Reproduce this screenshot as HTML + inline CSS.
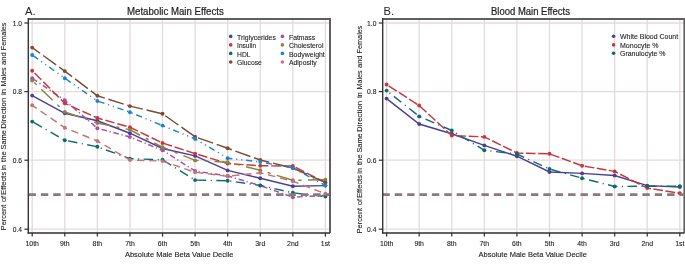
<!DOCTYPE html>
<html><head><meta charset="utf-8"><style>
html,body{margin:0;padding:0;background:#fff;}
body{width:685px;height:267px;overflow:hidden;font-family:"Liberation Sans",sans-serif;}
svg{display:block;will-change:transform;}
</style></head><body>
<svg width="685" height="267" viewBox="0 0 685 267">
<rect width="685" height="267" fill="#fff"/>
<line x1="32.20" y1="19.0" x2="32.20" y2="233.0" stroke="#e3dbdb" stroke-width="1.3"/>
<line x1="64.78" y1="19.0" x2="64.78" y2="233.0" stroke="#e3dbdb" stroke-width="1.3"/>
<line x1="97.36" y1="19.0" x2="97.36" y2="233.0" stroke="#e3dbdb" stroke-width="1.3"/>
<line x1="129.94" y1="19.0" x2="129.94" y2="233.0" stroke="#e3dbdb" stroke-width="1.3"/>
<line x1="162.52" y1="19.0" x2="162.52" y2="233.0" stroke="#e3dbdb" stroke-width="1.3"/>
<line x1="195.10" y1="19.0" x2="195.10" y2="233.0" stroke="#e3dbdb" stroke-width="1.3"/>
<line x1="227.68" y1="19.0" x2="227.68" y2="233.0" stroke="#e3dbdb" stroke-width="1.3"/>
<line x1="260.26" y1="19.0" x2="260.26" y2="233.0" stroke="#e3dbdb" stroke-width="1.3"/>
<line x1="292.84" y1="19.0" x2="292.84" y2="233.0" stroke="#e3dbdb" stroke-width="1.3"/>
<line x1="325.42" y1="19.0" x2="325.42" y2="233.0" stroke="#e3dbdb" stroke-width="1.3"/>
<line x1="28.30" y1="23.0" x2="330.00" y2="23.0" stroke="#e3dbdb" stroke-width="1.3"/>
<line x1="28.30" y1="91.6" x2="330.00" y2="91.6" stroke="#e3dbdb" stroke-width="1.3"/>
<line x1="28.30" y1="160.2" x2="330.00" y2="160.2" stroke="#e3dbdb" stroke-width="1.3"/>
<line x1="28.30" y1="229.2" x2="330.00" y2="229.2" stroke="#e3dbdb" stroke-width="1.3"/>
<polyline points="32.20,95.60 64.78,113.30 97.36,120.80 129.94,133.20 162.52,148.50 195.10,155.90 227.68,170.40 260.26,178.30 292.84,186.20 325.42,185.60" fill="none" stroke="#4a3f96" stroke-width="1.45"/>
<circle cx="32.20" cy="95.60" r="1.95" fill="#4a3f96"/>
<circle cx="64.78" cy="113.30" r="1.95" fill="#4a3f96"/>
<circle cx="97.36" cy="120.80" r="1.95" fill="#4a3f96"/>
<circle cx="129.94" cy="133.20" r="1.95" fill="#4a3f96"/>
<circle cx="162.52" cy="148.50" r="1.95" fill="#4a3f96"/>
<circle cx="195.10" cy="155.90" r="1.95" fill="#4a3f96"/>
<circle cx="227.68" cy="170.40" r="1.95" fill="#4a3f96"/>
<circle cx="260.26" cy="178.30" r="1.95" fill="#4a3f96"/>
<circle cx="292.84" cy="186.20" r="1.95" fill="#4a3f96"/>
<circle cx="325.42" cy="185.60" r="1.95" fill="#4a3f96"/>
<polyline points="32.20,78.20 64.78,100.30 97.36,128.20 129.94,137.00 162.52,150.30 195.10,171.00 227.68,176.00 260.26,185.60 292.84,197.20 325.42,195.30" fill="none" stroke="#a84ea6" stroke-width="1.45" stroke-dasharray="5.5 2.8 1.2 2.8" stroke-dashoffset="11.8"/>
<circle cx="32.20" cy="78.20" r="1.95" fill="#a84ea6"/>
<circle cx="64.78" cy="100.30" r="1.95" fill="#a84ea6"/>
<circle cx="97.36" cy="128.20" r="1.95" fill="#a84ea6"/>
<circle cx="129.94" cy="137.00" r="1.95" fill="#a84ea6"/>
<circle cx="162.52" cy="150.30" r="1.95" fill="#a84ea6"/>
<circle cx="195.10" cy="171.00" r="1.95" fill="#a84ea6"/>
<circle cx="227.68" cy="176.00" r="1.95" fill="#a84ea6"/>
<circle cx="260.26" cy="185.60" r="1.95" fill="#a84ea6"/>
<circle cx="292.84" cy="197.20" r="1.95" fill="#a84ea6"/>
<circle cx="325.42" cy="195.30" r="1.95" fill="#a84ea6"/>
<polyline points="32.20,70.70 64.78,103.30 97.36,118.00 129.94,127.30 162.52,143.00 195.10,153.60 227.68,163.50 260.26,165.80 292.84,166.00 325.42,182.50" fill="none" stroke="#c8373c" stroke-width="1.45" stroke-dasharray="9.5 2.9" stroke-dashoffset="9.0"/>
<circle cx="32.20" cy="70.70" r="1.95" fill="#c8373c"/>
<circle cx="64.78" cy="103.30" r="1.95" fill="#c8373c"/>
<circle cx="97.36" cy="118.00" r="1.95" fill="#c8373c"/>
<circle cx="129.94" cy="127.30" r="1.95" fill="#c8373c"/>
<circle cx="162.52" cy="143.00" r="1.95" fill="#c8373c"/>
<circle cx="195.10" cy="153.60" r="1.95" fill="#c8373c"/>
<circle cx="227.68" cy="163.50" r="1.95" fill="#c8373c"/>
<circle cx="260.26" cy="165.80" r="1.95" fill="#c8373c"/>
<circle cx="292.84" cy="166.00" r="1.95" fill="#c8373c"/>
<circle cx="325.42" cy="182.50" r="1.95" fill="#c8373c"/>
<polyline points="32.20,121.60 64.78,140.20 97.36,146.80 129.94,158.60 162.52,159.80 195.10,180.10 227.68,180.70 260.26,185.40 292.84,192.80 325.42,196.60" fill="none" stroke="#0d6b6f" stroke-width="1.45" stroke-dasharray="9.5 4.5 1.1 4.5" stroke-dashoffset="18.0"/>
<circle cx="32.20" cy="121.60" r="1.95" fill="#0d6b6f"/>
<circle cx="64.78" cy="140.20" r="1.95" fill="#0d6b6f"/>
<circle cx="97.36" cy="146.80" r="1.95" fill="#0d6b6f"/>
<circle cx="129.94" cy="158.60" r="1.95" fill="#0d6b6f"/>
<circle cx="162.52" cy="159.80" r="1.95" fill="#0d6b6f"/>
<circle cx="195.10" cy="180.10" r="1.95" fill="#0d6b6f"/>
<circle cx="227.68" cy="180.70" r="1.95" fill="#0d6b6f"/>
<circle cx="260.26" cy="185.40" r="1.95" fill="#0d6b6f"/>
<circle cx="292.84" cy="192.80" r="1.95" fill="#0d6b6f"/>
<circle cx="325.42" cy="196.60" r="1.95" fill="#0d6b6f"/>
<polyline points="32.20,80.50 64.78,111.90 97.36,123.00 129.94,129.80 162.52,147.20 195.10,160.40 227.68,162.20 260.26,170.20 292.84,180.30 325.42,179.80" fill="none" stroke="#8c8142" stroke-width="1.45" stroke-dasharray="16 6.4 3.2 6.4" stroke-dashoffset="19.5"/>
<circle cx="32.20" cy="80.50" r="1.95" fill="#8c8142"/>
<circle cx="64.78" cy="111.90" r="1.95" fill="#8c8142"/>
<circle cx="97.36" cy="123.00" r="1.95" fill="#8c8142"/>
<circle cx="129.94" cy="129.80" r="1.95" fill="#8c8142"/>
<circle cx="162.52" cy="147.20" r="1.95" fill="#8c8142"/>
<circle cx="195.10" cy="160.40" r="1.95" fill="#8c8142"/>
<circle cx="227.68" cy="162.20" r="1.95" fill="#8c8142"/>
<circle cx="260.26" cy="170.20" r="1.95" fill="#8c8142"/>
<circle cx="292.84" cy="180.30" r="1.95" fill="#8c8142"/>
<circle cx="325.42" cy="179.80" r="1.95" fill="#8c8142"/>
<polyline points="32.20,47.60 64.78,71.10 97.36,95.80 129.94,106.10 162.52,113.80 195.10,136.80 227.68,148.30 260.26,160.00 292.84,168.00 325.42,182.50" fill="none" stroke="#7a4c33" stroke-width="1.45" stroke-dasharray="16 3.8" stroke-dashoffset="6.3"/>
<circle cx="32.20" cy="47.60" r="1.95" fill="#7a4c33"/>
<circle cx="64.78" cy="71.10" r="1.95" fill="#7a4c33"/>
<circle cx="97.36" cy="95.80" r="1.95" fill="#7a4c33"/>
<circle cx="129.94" cy="106.10" r="1.95" fill="#7a4c33"/>
<circle cx="162.52" cy="113.80" r="1.95" fill="#7a4c33"/>
<circle cx="195.10" cy="136.80" r="1.95" fill="#7a4c33"/>
<circle cx="227.68" cy="148.30" r="1.95" fill="#7a4c33"/>
<circle cx="260.26" cy="160.00" r="1.95" fill="#7a4c33"/>
<circle cx="292.84" cy="168.00" r="1.95" fill="#7a4c33"/>
<circle cx="325.42" cy="182.50" r="1.95" fill="#7a4c33"/>
<polyline points="32.20,55.00 64.78,78.20 97.36,101.00 129.94,112.20 162.52,125.60 195.10,138.90 227.68,158.20 260.26,162.00 292.84,168.00 325.42,185.50" fill="none" stroke="#1a84cf" stroke-width="1.45" stroke-dasharray="6.2 3.9 1.1 3.9 1.1 3.8" stroke-dashoffset="19.0"/>
<circle cx="32.20" cy="55.00" r="1.95" fill="#1a84cf"/>
<circle cx="64.78" cy="78.20" r="1.95" fill="#1a84cf"/>
<circle cx="97.36" cy="101.00" r="1.95" fill="#1a84cf"/>
<circle cx="129.94" cy="112.20" r="1.95" fill="#1a84cf"/>
<circle cx="162.52" cy="125.60" r="1.95" fill="#1a84cf"/>
<circle cx="195.10" cy="138.90" r="1.95" fill="#1a84cf"/>
<circle cx="227.68" cy="158.20" r="1.95" fill="#1a84cf"/>
<circle cx="260.26" cy="162.00" r="1.95" fill="#1a84cf"/>
<circle cx="292.84" cy="168.00" r="1.95" fill="#1a84cf"/>
<circle cx="325.42" cy="185.50" r="1.95" fill="#1a84cf"/>
<polyline points="32.20,105.30 64.78,127.70 97.36,141.00 129.94,160.00 162.52,161.10 195.10,172.30 227.68,176.30 260.26,172.80 292.84,181.20 325.42,193.80" fill="none" stroke="#c47474" stroke-width="1.45" stroke-dasharray="7.4 4.75" stroke-dashoffset="2.0"/>
<circle cx="32.20" cy="105.30" r="1.95" fill="#c47474"/>
<circle cx="64.78" cy="127.70" r="1.95" fill="#c47474"/>
<circle cx="97.36" cy="141.00" r="1.95" fill="#c47474"/>
<circle cx="129.94" cy="160.00" r="1.95" fill="#c47474"/>
<circle cx="162.52" cy="161.10" r="1.95" fill="#c47474"/>
<circle cx="195.10" cy="172.30" r="1.95" fill="#c47474"/>
<circle cx="227.68" cy="176.30" r="1.95" fill="#c47474"/>
<circle cx="260.26" cy="172.80" r="1.95" fill="#c47474"/>
<circle cx="292.84" cy="181.20" r="1.95" fill="#c47474"/>
<circle cx="325.42" cy="193.80" r="1.95" fill="#c47474"/>
<line x1="28.50" y1="194.6" x2="329.00" y2="194.6" stroke="#8a7b78" stroke-width="2.9" stroke-dasharray="7.4 4.98"/>
<path d="M28.30,19.0 H330.00 V233.0" fill="none" stroke="#606060" stroke-width="2"/>
<line x1="28.30" y1="18.0" x2="28.30" y2="233.6" stroke="#363636" stroke-width="1.4"/>
<line x1="27.60" y1="233.0" x2="330.00" y2="233.0" stroke="#2e2e2e" stroke-width="1.3"/>
<line x1="24.40" y1="23.0" x2="28.30" y2="23.0" stroke="#2e2e2e" stroke-width="1.2"/>
<text x="22.00" y="25.50" font-family="Liberation Sans, sans-serif" font-size="6.7" fill="#222" stroke="#222" stroke-width="0.1" text-anchor="end">1.0</text>
<line x1="24.40" y1="91.6" x2="28.30" y2="91.6" stroke="#2e2e2e" stroke-width="1.2"/>
<text x="22.00" y="94.10" font-family="Liberation Sans, sans-serif" font-size="6.7" fill="#222" stroke="#222" stroke-width="0.1" text-anchor="end">0.8</text>
<line x1="24.40" y1="160.2" x2="28.30" y2="160.2" stroke="#2e2e2e" stroke-width="1.2"/>
<text x="22.00" y="162.70" font-family="Liberation Sans, sans-serif" font-size="6.7" fill="#222" stroke="#222" stroke-width="0.1" text-anchor="end">0.6</text>
<line x1="24.40" y1="229.2" x2="28.30" y2="229.2" stroke="#2e2e2e" stroke-width="1.2"/>
<text x="22.00" y="231.70" font-family="Liberation Sans, sans-serif" font-size="6.7" fill="#222" stroke="#222" stroke-width="0.1" text-anchor="end">0.4</text>
<line x1="32.20" y1="233.0" x2="32.20" y2="236.6" stroke="#2e2e2e" stroke-width="1.2"/>
<text x="32.20" y="245.8" font-family="Liberation Sans, sans-serif" font-size="6.9" fill="#222" stroke="#222" stroke-width="0.1" text-anchor="middle">10th</text>
<line x1="64.78" y1="233.0" x2="64.78" y2="236.6" stroke="#2e2e2e" stroke-width="1.2"/>
<text x="64.78" y="245.8" font-family="Liberation Sans, sans-serif" font-size="6.9" fill="#222" stroke="#222" stroke-width="0.1" text-anchor="middle">9th</text>
<line x1="97.36" y1="233.0" x2="97.36" y2="236.6" stroke="#2e2e2e" stroke-width="1.2"/>
<text x="97.36" y="245.8" font-family="Liberation Sans, sans-serif" font-size="6.9" fill="#222" stroke="#222" stroke-width="0.1" text-anchor="middle">8th</text>
<line x1="129.94" y1="233.0" x2="129.94" y2="236.6" stroke="#2e2e2e" stroke-width="1.2"/>
<text x="129.94" y="245.8" font-family="Liberation Sans, sans-serif" font-size="6.9" fill="#222" stroke="#222" stroke-width="0.1" text-anchor="middle">7th</text>
<line x1="162.52" y1="233.0" x2="162.52" y2="236.6" stroke="#2e2e2e" stroke-width="1.2"/>
<text x="162.52" y="245.8" font-family="Liberation Sans, sans-serif" font-size="6.9" fill="#222" stroke="#222" stroke-width="0.1" text-anchor="middle">6th</text>
<line x1="195.10" y1="233.0" x2="195.10" y2="236.6" stroke="#2e2e2e" stroke-width="1.2"/>
<text x="195.10" y="245.8" font-family="Liberation Sans, sans-serif" font-size="6.9" fill="#222" stroke="#222" stroke-width="0.1" text-anchor="middle">5th</text>
<line x1="227.68" y1="233.0" x2="227.68" y2="236.6" stroke="#2e2e2e" stroke-width="1.2"/>
<text x="227.68" y="245.8" font-family="Liberation Sans, sans-serif" font-size="6.9" fill="#222" stroke="#222" stroke-width="0.1" text-anchor="middle">4th</text>
<line x1="260.26" y1="233.0" x2="260.26" y2="236.6" stroke="#2e2e2e" stroke-width="1.2"/>
<text x="260.26" y="245.8" font-family="Liberation Sans, sans-serif" font-size="6.9" fill="#222" stroke="#222" stroke-width="0.1" text-anchor="middle">3rd</text>
<line x1="292.84" y1="233.0" x2="292.84" y2="236.6" stroke="#2e2e2e" stroke-width="1.2"/>
<text x="292.84" y="245.8" font-family="Liberation Sans, sans-serif" font-size="6.9" fill="#222" stroke="#222" stroke-width="0.1" text-anchor="middle">2nd</text>
<line x1="325.42" y1="233.0" x2="325.42" y2="236.6" stroke="#2e2e2e" stroke-width="1.2"/>
<text x="325.42" y="245.8" font-family="Liberation Sans, sans-serif" font-size="6.9" fill="#222" stroke="#222" stroke-width="0.1" text-anchor="middle">1st</text>
<text x="124.90" y="256.7" font-family="Liberation Sans, sans-serif" font-size="7.6" fill="#222" stroke="#222" stroke-width="0.12" textLength="108.6" lengthAdjust="spacingAndGlyphs">Absolute Male Beta Value Decile</text>
<g transform="translate(5.90,0) rotate(-90)" font-family="Liberation Sans, sans-serif" font-size="7.4" fill="#222" stroke="#222" stroke-width="0.1"><text x="-230.20" y="0" textLength="25.40" lengthAdjust="spacingAndGlyphs">Percent</text><text x="-202.10" y="0" textLength="6.30" lengthAdjust="spacingAndGlyphs">of</text><text x="-194.90" y="0" textLength="23.10" lengthAdjust="spacingAndGlyphs">Effects</text><text x="-170.60" y="0" textLength="5.60" lengthAdjust="spacingAndGlyphs">in</text><text x="-161.90" y="0" textLength="10.50" lengthAdjust="spacingAndGlyphs">the</text><text x="-149.50" y="0" textLength="19.30" lengthAdjust="spacingAndGlyphs">Same</text><text x="-128.80" y="0" textLength="31.10" lengthAdjust="spacingAndGlyphs">Direction</text><text x="-95.00" y="0" textLength="5.90" lengthAdjust="spacingAndGlyphs">in</text><text x="-86.40" y="0" textLength="19.00" lengthAdjust="spacingAndGlyphs">Males</text><text x="-65.00" y="0" textLength="12.70" lengthAdjust="spacingAndGlyphs">and</text><text x="-50.30" y="0" textLength="27.80" lengthAdjust="spacingAndGlyphs">Females</text></g>
<text x="127.00" y="14.7" font-family="Liberation Sans, sans-serif" font-size="10" fill="#222" stroke="#222" stroke-width="0.2" textLength="96.8" lengthAdjust="spacingAndGlyphs">Metabolic Main Effects</text>
<text x="25.00" y="14.9" font-family="Liberation Sans, sans-serif" font-size="11.2" fill="#222">A.</text>
<circle cx="230.70" cy="36.40" r="1.8" fill="#4a3f96"/>
<text x="237.10" y="39.90" font-family="Liberation Sans, sans-serif" font-size="7.5" fill="#222" stroke="#222" stroke-width="0.1" textLength="38.8" lengthAdjust="spacingAndGlyphs">Triglycerides</text>
<circle cx="230.70" cy="44.90" r="1.8" fill="#c8373c"/>
<text x="237.10" y="48.30" font-family="Liberation Sans, sans-serif" font-size="7.5" fill="#222" stroke="#222" stroke-width="0.1" textLength="19.0" lengthAdjust="spacingAndGlyphs">Insulin</text>
<circle cx="230.70" cy="53.40" r="1.8" fill="#0d6b6f"/>
<text x="237.10" y="56.80" font-family="Liberation Sans, sans-serif" font-size="7.5" fill="#222" stroke="#222" stroke-width="0.1" textLength="13.5" lengthAdjust="spacingAndGlyphs">HDL</text>
<circle cx="230.70" cy="62.00" r="1.8" fill="#7a4c33"/>
<text x="237.10" y="65.20" font-family="Liberation Sans, sans-serif" font-size="7.5" fill="#222" stroke="#222" stroke-width="0.1" textLength="24.7" lengthAdjust="spacingAndGlyphs">Glucose</text>
<circle cx="282.40" cy="36.40" r="1.8" fill="#a84ea6"/>
<text x="289.00" y="39.90" font-family="Liberation Sans, sans-serif" font-size="7.5" fill="#222" stroke="#222" stroke-width="0.1" textLength="26.2" lengthAdjust="spacingAndGlyphs">Fatmass</text>
<circle cx="282.40" cy="44.90" r="1.8" fill="#8c8142"/>
<text x="289.00" y="48.30" font-family="Liberation Sans, sans-serif" font-size="7.5" fill="#222" stroke="#222" stroke-width="0.1" textLength="34.4" lengthAdjust="spacingAndGlyphs">Cholesterol</text>
<circle cx="282.40" cy="53.40" r="1.8" fill="#1a84cf"/>
<text x="289.00" y="56.80" font-family="Liberation Sans, sans-serif" font-size="7.5" fill="#222" stroke="#222" stroke-width="0.1" textLength="35.8" lengthAdjust="spacingAndGlyphs">Bodyweight</text>
<circle cx="282.40" cy="62.00" r="1.8" fill="#c47474"/>
<text x="289.00" y="65.20" font-family="Liberation Sans, sans-serif" font-size="7.5" fill="#222" stroke="#222" stroke-width="0.1" textLength="27.7" lengthAdjust="spacingAndGlyphs">Adiposity</text>
<line x1="386.60" y1="19.0" x2="386.60" y2="233.0" stroke="#e3dbdb" stroke-width="1.3"/>
<line x1="419.18" y1="19.0" x2="419.18" y2="233.0" stroke="#e3dbdb" stroke-width="1.3"/>
<line x1="451.76" y1="19.0" x2="451.76" y2="233.0" stroke="#e3dbdb" stroke-width="1.3"/>
<line x1="484.34" y1="19.0" x2="484.34" y2="233.0" stroke="#e3dbdb" stroke-width="1.3"/>
<line x1="516.92" y1="19.0" x2="516.92" y2="233.0" stroke="#e3dbdb" stroke-width="1.3"/>
<line x1="549.50" y1="19.0" x2="549.50" y2="233.0" stroke="#e3dbdb" stroke-width="1.3"/>
<line x1="582.08" y1="19.0" x2="582.08" y2="233.0" stroke="#e3dbdb" stroke-width="1.3"/>
<line x1="614.66" y1="19.0" x2="614.66" y2="233.0" stroke="#e3dbdb" stroke-width="1.3"/>
<line x1="647.24" y1="19.0" x2="647.24" y2="233.0" stroke="#e3dbdb" stroke-width="1.3"/>
<line x1="679.82" y1="19.0" x2="679.82" y2="233.0" stroke="#e3dbdb" stroke-width="1.3"/>
<line x1="382.70" y1="23.0" x2="684.40" y2="23.0" stroke="#e3dbdb" stroke-width="1.3"/>
<line x1="382.70" y1="91.6" x2="684.40" y2="91.6" stroke="#e3dbdb" stroke-width="1.3"/>
<line x1="382.70" y1="160.2" x2="684.40" y2="160.2" stroke="#e3dbdb" stroke-width="1.3"/>
<line x1="382.70" y1="229.2" x2="684.40" y2="229.2" stroke="#e3dbdb" stroke-width="1.3"/>
<polyline points="386.60,98.60 419.18,124.00 451.76,133.80 484.34,145.40 516.92,156.20 549.50,172.00 582.08,173.40 614.66,175.50 647.24,185.60 679.82,187.00" fill="none" stroke="#4a3f96" stroke-width="1.45"/>
<circle cx="386.60" cy="98.60" r="1.95" fill="#4a3f96"/>
<circle cx="419.18" cy="124.00" r="1.95" fill="#4a3f96"/>
<circle cx="451.76" cy="133.80" r="1.95" fill="#4a3f96"/>
<circle cx="484.34" cy="145.40" r="1.95" fill="#4a3f96"/>
<circle cx="516.92" cy="156.20" r="1.95" fill="#4a3f96"/>
<circle cx="549.50" cy="172.00" r="1.95" fill="#4a3f96"/>
<circle cx="582.08" cy="173.40" r="1.95" fill="#4a3f96"/>
<circle cx="614.66" cy="175.50" r="1.95" fill="#4a3f96"/>
<circle cx="647.24" cy="185.60" r="1.95" fill="#4a3f96"/>
<circle cx="679.82" cy="187.00" r="1.95" fill="#4a3f96"/>
<polyline points="386.60,84.50 419.18,105.50 451.76,135.50 484.34,136.90 516.92,153.00 549.50,153.80 582.08,165.70 614.66,171.40 647.24,188.10 679.82,193.20" fill="none" stroke="#c8373c" stroke-width="1.45" stroke-dasharray="9.7 2.5" stroke-dashoffset="9.8"/>
<circle cx="386.60" cy="84.50" r="1.95" fill="#c8373c"/>
<circle cx="419.18" cy="105.50" r="1.95" fill="#c8373c"/>
<circle cx="451.76" cy="135.50" r="1.95" fill="#c8373c"/>
<circle cx="484.34" cy="136.90" r="1.95" fill="#c8373c"/>
<circle cx="516.92" cy="153.00" r="1.95" fill="#c8373c"/>
<circle cx="549.50" cy="153.80" r="1.95" fill="#c8373c"/>
<circle cx="582.08" cy="165.70" r="1.95" fill="#c8373c"/>
<circle cx="614.66" cy="171.40" r="1.95" fill="#c8373c"/>
<circle cx="647.24" cy="188.10" r="1.95" fill="#c8373c"/>
<circle cx="679.82" cy="193.20" r="1.95" fill="#c8373c"/>
<polyline points="386.60,90.60 419.18,116.40 451.76,130.50 484.34,150.30 516.92,154.00 549.50,169.00 582.08,178.20 614.66,186.50 647.24,186.20 679.82,186.20" fill="none" stroke="#0d6b6f" stroke-width="1.45" stroke-dasharray="9.5 4.5 1.1 4.5" stroke-dashoffset="10.3"/>
<circle cx="386.60" cy="90.60" r="1.95" fill="#0d6b6f"/>
<circle cx="419.18" cy="116.40" r="1.95" fill="#0d6b6f"/>
<circle cx="451.76" cy="130.50" r="1.95" fill="#0d6b6f"/>
<circle cx="484.34" cy="150.30" r="1.95" fill="#0d6b6f"/>
<circle cx="516.92" cy="154.00" r="1.95" fill="#0d6b6f"/>
<circle cx="549.50" cy="169.00" r="1.95" fill="#0d6b6f"/>
<circle cx="582.08" cy="178.20" r="1.95" fill="#0d6b6f"/>
<circle cx="614.66" cy="186.50" r="1.95" fill="#0d6b6f"/>
<circle cx="647.24" cy="186.20" r="1.95" fill="#0d6b6f"/>
<circle cx="679.82" cy="186.20" r="1.95" fill="#0d6b6f"/>
<line x1="382.40" y1="194.6" x2="683.40" y2="194.6" stroke="#8a7b78" stroke-width="2.9" stroke-dasharray="7.4 4.98"/>
<path d="M382.70,19.0 H684.40 V233.0" fill="none" stroke="#606060" stroke-width="2"/>
<line x1="382.70" y1="18.0" x2="382.70" y2="233.6" stroke="#363636" stroke-width="1.4"/>
<line x1="382.00" y1="233.0" x2="684.40" y2="233.0" stroke="#2e2e2e" stroke-width="1.3"/>
<line x1="378.80" y1="23.0" x2="382.70" y2="23.0" stroke="#2e2e2e" stroke-width="1.2"/>
<text x="376.40" y="25.50" font-family="Liberation Sans, sans-serif" font-size="6.7" fill="#222" stroke="#222" stroke-width="0.1" text-anchor="end">1.0</text>
<line x1="378.80" y1="91.6" x2="382.70" y2="91.6" stroke="#2e2e2e" stroke-width="1.2"/>
<text x="376.40" y="94.10" font-family="Liberation Sans, sans-serif" font-size="6.7" fill="#222" stroke="#222" stroke-width="0.1" text-anchor="end">0.8</text>
<line x1="378.80" y1="160.2" x2="382.70" y2="160.2" stroke="#2e2e2e" stroke-width="1.2"/>
<text x="376.40" y="162.70" font-family="Liberation Sans, sans-serif" font-size="6.7" fill="#222" stroke="#222" stroke-width="0.1" text-anchor="end">0.6</text>
<line x1="378.80" y1="229.2" x2="382.70" y2="229.2" stroke="#2e2e2e" stroke-width="1.2"/>
<text x="376.40" y="231.70" font-family="Liberation Sans, sans-serif" font-size="6.7" fill="#222" stroke="#222" stroke-width="0.1" text-anchor="end">0.4</text>
<line x1="386.60" y1="233.0" x2="386.60" y2="236.6" stroke="#2e2e2e" stroke-width="1.2"/>
<text x="386.60" y="245.8" font-family="Liberation Sans, sans-serif" font-size="6.9" fill="#222" stroke="#222" stroke-width="0.1" text-anchor="middle">10th</text>
<line x1="419.18" y1="233.0" x2="419.18" y2="236.6" stroke="#2e2e2e" stroke-width="1.2"/>
<text x="419.18" y="245.8" font-family="Liberation Sans, sans-serif" font-size="6.9" fill="#222" stroke="#222" stroke-width="0.1" text-anchor="middle">9th</text>
<line x1="451.76" y1="233.0" x2="451.76" y2="236.6" stroke="#2e2e2e" stroke-width="1.2"/>
<text x="451.76" y="245.8" font-family="Liberation Sans, sans-serif" font-size="6.9" fill="#222" stroke="#222" stroke-width="0.1" text-anchor="middle">8th</text>
<line x1="484.34" y1="233.0" x2="484.34" y2="236.6" stroke="#2e2e2e" stroke-width="1.2"/>
<text x="484.34" y="245.8" font-family="Liberation Sans, sans-serif" font-size="6.9" fill="#222" stroke="#222" stroke-width="0.1" text-anchor="middle">7th</text>
<line x1="516.92" y1="233.0" x2="516.92" y2="236.6" stroke="#2e2e2e" stroke-width="1.2"/>
<text x="516.92" y="245.8" font-family="Liberation Sans, sans-serif" font-size="6.9" fill="#222" stroke="#222" stroke-width="0.1" text-anchor="middle">6th</text>
<line x1="549.50" y1="233.0" x2="549.50" y2="236.6" stroke="#2e2e2e" stroke-width="1.2"/>
<text x="549.50" y="245.8" font-family="Liberation Sans, sans-serif" font-size="6.9" fill="#222" stroke="#222" stroke-width="0.1" text-anchor="middle">5th</text>
<line x1="582.08" y1="233.0" x2="582.08" y2="236.6" stroke="#2e2e2e" stroke-width="1.2"/>
<text x="582.08" y="245.8" font-family="Liberation Sans, sans-serif" font-size="6.9" fill="#222" stroke="#222" stroke-width="0.1" text-anchor="middle">4th</text>
<line x1="614.66" y1="233.0" x2="614.66" y2="236.6" stroke="#2e2e2e" stroke-width="1.2"/>
<text x="614.66" y="245.8" font-family="Liberation Sans, sans-serif" font-size="6.9" fill="#222" stroke="#222" stroke-width="0.1" text-anchor="middle">3rd</text>
<line x1="647.24" y1="233.0" x2="647.24" y2="236.6" stroke="#2e2e2e" stroke-width="1.2"/>
<text x="647.24" y="245.8" font-family="Liberation Sans, sans-serif" font-size="6.9" fill="#222" stroke="#222" stroke-width="0.1" text-anchor="middle">2nd</text>
<line x1="679.82" y1="233.0" x2="679.82" y2="236.6" stroke="#2e2e2e" stroke-width="1.2"/>
<text x="679.82" y="245.8" font-family="Liberation Sans, sans-serif" font-size="6.9" fill="#222" stroke="#222" stroke-width="0.1" text-anchor="middle">1st</text>
<text x="478.50" y="256.7" font-family="Liberation Sans, sans-serif" font-size="7.6" fill="#222" stroke="#222" stroke-width="0.12" textLength="108.3" lengthAdjust="spacingAndGlyphs">Absolute Male Beta Value Decile</text>
<g transform="translate(361.90,0) rotate(-90)" font-family="Liberation Sans, sans-serif" font-size="7.4" fill="#222" stroke="#222" stroke-width="0.1"><text x="-233.30" y="0" textLength="25.40" lengthAdjust="spacingAndGlyphs">Percent</text><text x="-205.20" y="0" textLength="6.30" lengthAdjust="spacingAndGlyphs">of</text><text x="-198.00" y="0" textLength="23.10" lengthAdjust="spacingAndGlyphs">Effects</text><text x="-173.70" y="0" textLength="5.60" lengthAdjust="spacingAndGlyphs">in</text><text x="-165.00" y="0" textLength="10.50" lengthAdjust="spacingAndGlyphs">the</text><text x="-152.60" y="0" textLength="19.30" lengthAdjust="spacingAndGlyphs">Same</text><text x="-131.90" y="0" textLength="31.10" lengthAdjust="spacingAndGlyphs">Direction</text><text x="-98.10" y="0" textLength="5.90" lengthAdjust="spacingAndGlyphs">in</text><text x="-89.50" y="0" textLength="19.00" lengthAdjust="spacingAndGlyphs">Males</text><text x="-68.10" y="0" textLength="12.70" lengthAdjust="spacingAndGlyphs">and</text><text x="-53.40" y="0" textLength="27.80" lengthAdjust="spacingAndGlyphs">Females</text></g>
<text x="491.00" y="14.7" font-family="Liberation Sans, sans-serif" font-size="10" fill="#222" stroke="#222" stroke-width="0.2" textLength="78.9" lengthAdjust="spacingAndGlyphs">Blood Main Effects</text>
<text x="383.60" y="14.9" font-family="Liberation Sans, sans-serif" font-size="11.2" fill="#222">B.</text>
<circle cx="613.60" cy="36.30" r="1.8" fill="#4a3f96"/>
<text x="620.00" y="39.30" font-family="Liberation Sans, sans-serif" font-size="7.5" fill="#222" stroke="#222" stroke-width="0.1" textLength="58.1" lengthAdjust="spacingAndGlyphs">White Blood Count</text>
<circle cx="613.60" cy="44.90" r="1.8" fill="#c8373c"/>
<text x="620.00" y="47.80" font-family="Liberation Sans, sans-serif" font-size="7.5" fill="#222" stroke="#222" stroke-width="0.1" textLength="38.6" lengthAdjust="spacingAndGlyphs">Monocyte %</text>
<circle cx="613.60" cy="53.30" r="1.8" fill="#0d6b6f"/>
<text x="620.00" y="56.30" font-family="Liberation Sans, sans-serif" font-size="7.5" fill="#222" stroke="#222" stroke-width="0.1" textLength="45.5" lengthAdjust="spacingAndGlyphs">Granulocyte %</text>
</svg>
</body></html>
